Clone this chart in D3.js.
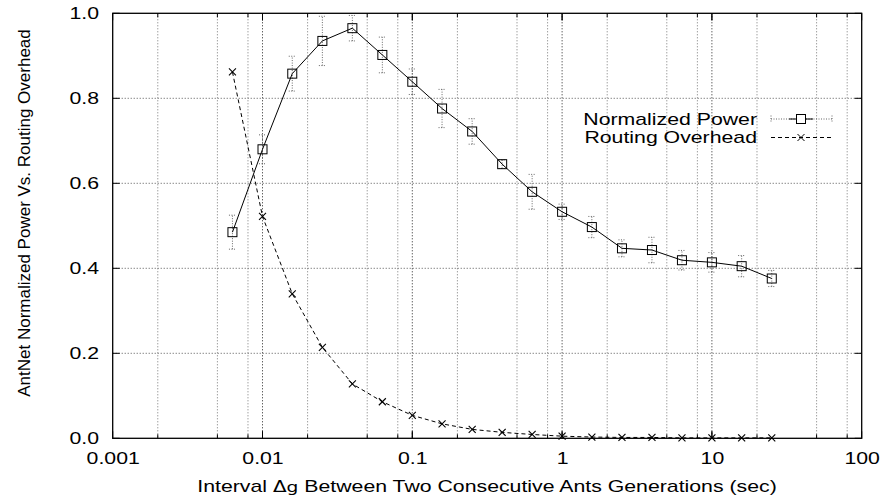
<!DOCTYPE html>
<html><head><meta charset="utf-8">
<script src="https://cdn.jsdelivr.net/npm/d3@7/dist/d3.min.js"></script>
<style>body{margin:0;background:#fff}svg{display:block}text{font-family:"Liberation Sans",Arial,sans-serif;fill:#000}</style>
</head><body>
<svg id="c" width="881" height="504"></svg>
<script>
const intervals = [0.0063, 0.01, 0.0158, 0.0251, 0.0398, 0.0631, 0.1, 0.158, 0.251, 0.398, 0.631, 1, 1.58, 2.51, 3.98, 6.31, 10, 15.8, 25.1];
const normalizedPower = [0.485, 0.680, 0.858, 0.935, 0.965, 0.902, 0.839, 0.776, 0.722, 0.645, 0.580, 0.533, 0.497, 0.447, 0.443, 0.419, 0.414, 0.405, 0.376];
const powerError = [0.040, 0.034, 0.041, 0.058, 0.030, 0.042, 0.030, 0.045, 0.030, 0.010, 0.041, 0.018, 0.025, 0.020, 0.030, 0.023, 0.023, 0.025, 0.019];
const routingOverhead = [0.862, 0.522, 0.340, 0.214, 0.128, 0.086, 0.054, 0.034, 0.021, 0.014, 0.009, 0.005, 0.003, 0.002, 0.002, 0.001, 0.001, 0.001, 0.001];
const xMajorTicks = [0.001, 0.01, 0.1, 1, 10, 100];
const xTickLabels = ["0.001", "0.01", "0.1", "1", "10", "100"];
const xGrid = [0.002, 0.005, 0.008, 0.01, 0.02, 0.05, 0.08, 0.1, 0.2, 0.5, 0.8, 1, 2, 5, 8, 10, 20, 50, 80];
const yTicks = [0, 0.2, 0.4, 0.6, 0.8, 1.0];
const seriesNames = ["Normalized Power", "Routing Overhead"];
const yTitle = "AntNet Normalized Power Vs. Routing Overhead";

const L = 112.7, R = 861.7, T = 13.3, B = 438.3;
const x = d3.scaleLog().domain([0.001, 100]).range([L, R]);
const y = d3.scaleLinear().domain([0, 1]).range([B, T]);
const svg = d3.select("#c");
const fs = 16, sx = 1.33;

// helper for horizontally stretched text
function stext(parent, px, py, str, anchor, size) {
  return parent.append("text")
    .attr("transform", `translate(${px},${py}) scale(${sx},1)`)
    .attr("text-anchor", anchor).attr("font-size", size || fs).text(str);
}

// grid
const g = svg.append("g");
g.selectAll(".vg").data(xGrid).join("line")
  .attr("x1", d => x(d)).attr("x2", d => x(d)).attr("y1", T).attr("y2", B)
  .attr("stroke", d => xMajorTicks.includes(d) ? "#222" : "#777")
  .attr("stroke-width", 1).attr("stroke-dasharray", "1,2");
g.selectAll(".hg").data(yTicks.filter(d => d > 0 && d < 1)).join("line")
  .attr("x1", L).attr("x2", R).attr("y1", d => y(d)).attr("y2", d => y(d))
  .attr("stroke", "#555").attr("stroke-width", 1).attr("stroke-dasharray", "1,2");

// axes via d3
const xAx = d3.axisBottom(x).tickValues(xMajorTicks).tickFormat((d, i) => xTickLabels[i]).tickSize(0).tickPadding(14);
const xa = svg.append("g").attr("transform", `translate(0,${B})`).call(xAx);
xa.select(".domain").remove();
xa.selectAll("text").attr("font-size", fs).attr("font-family", "Liberation Sans, Arial, sans-serif").attr("fill", "#000")
  .attr("transform", `scale(${sx},1)`);
const yAx = d3.axisLeft(y).tickValues(yTicks).tickFormat(d3.format(".1f")).tickSize(0).tickPadding(14);
const ya = svg.append("g").attr("transform", `translate(${L},0)`).call(yAx);
ya.select(".domain").remove();
ya.selectAll("text").attr("font-size", fs).attr("font-family", "Liberation Sans, Arial, sans-serif").attr("fill", "#000")
  .attr("x", -13.7 / sx).attr("transform", `scale(${sx},1)`);

// tick marks (inward, mirrored)
const tk = svg.append("g").attr("stroke", "#000").attr("stroke-width", 1);
xGrid.concat(xMajorTicks).forEach(d => {
  const len = xMajorTicks.includes(d) ? 7 : 4;
  tk.append("line").attr("x1", x(d)).attr("x2", x(d)).attr("y1", B).attr("y2", B - len);
  tk.append("line").attr("x1", x(d)).attr("x2", x(d)).attr("y1", T).attr("y2", T + len);
});
yTicks.forEach(d => {
  tk.append("line").attr("x1", L).attr("x2", L + 7).attr("y1", y(d)).attr("y2", y(d));
  tk.append("line").attr("x1", R).attr("x2", R - 7).attr("y1", y(d)).attr("y2", y(d));
});

// frame
svg.append("rect").attr("x", L).attr("y", T).attr("width", R - L).attr("height", B - T)
  .attr("fill", "none").attr("stroke", "#000").attr("stroke-width", 1.3);

// error bars
const eb = svg.append("g").attr("stroke", "#666").attr("stroke-width", 1).attr("stroke-dasharray", "1,1.5");
intervals.forEach((xv, i) => {
  const cx = x(xv), y0 = y(normalizedPower[i] - powerError[i]), y1 = y(normalizedPower[i] + powerError[i]);
  eb.append("line").attr("x1", cx).attr("x2", cx).attr("y1", y0).attr("y2", y1);
  eb.append("line").attr("x1", cx - 3.5).attr("x2", cx + 3.5).attr("y1", y0).attr("y2", y0);
  eb.append("line").attr("x1", cx - 3.5).attr("x2", cx + 3.5).attr("y1", y1).attr("y2", y1);
});

// lines
const line = d3.line().x(d => x(d[0])).y(d => y(d[1]));
const pw = intervals.map((v, i) => [v, normalizedPower[i]]);
const ro = intervals.map((v, i) => [v, routingOverhead[i]]);
svg.append("path").attr("d", line(pw)).attr("fill", "none").attr("stroke", "#000").attr("stroke-width", 1);
svg.append("path").attr("d", line(ro)).attr("fill", "none").attr("stroke", "#000").attr("stroke-width", 1).attr("stroke-dasharray", "4,3");

// markers
const sq = 9;
svg.append("g").selectAll("rect").data(pw).join("rect")
  .attr("x", d => x(d[0]) - sq / 2).attr("y", d => y(d[1]) - sq / 2).attr("width", sq).attr("height", sq)
  .attr("fill", "none").attr("stroke", "#000").attr("stroke-width", 1);
const cr = 3.5;
const crossG = svg.append("g").attr("stroke", "#000").attr("stroke-width", 1.1);
ro.forEach(d => {
  const cx = x(d[0]), cy = y(d[1]);
  crossG.append("line").attr("x1", cx - cr).attr("x2", cx + cr).attr("y1", cy - cr).attr("y2", cy + cr);
  crossG.append("line").attr("x1", cx - cr).attr("x2", cx + cr).attr("y1", cy + cr).attr("y2", cy - cr);
});

// legend
const lgX = 757, s0 = 771, s1 = 832, sm = 801;
const ly = [119, 137.5];
stext(svg, lgX, ly[0] + 5.8, seriesNames[0], "end");
stext(svg, lgX, ly[1] + 5.8, seriesNames[1], "end");
const lg = svg.append("g");
lg.append("line").attr("x1", s0).attr("x2", s1).attr("y1", ly[0]).attr("y2", ly[0]).attr("stroke", "#666").attr("stroke-dasharray", "1,1.5");
[s0, s1].forEach(xx => lg.append("line").attr("x1", xx).attr("x2", xx).attr("y1", ly[0] - 3.5).attr("y2", ly[0] + 3.5).attr("stroke", "#666").attr("stroke-dasharray", "1,1.5"));
lg.append("line").attr("x1", sm - 12).attr("x2", sm + 12).attr("y1", ly[0]).attr("y2", ly[0]).attr("stroke", "#000");
lg.append("rect").attr("x", sm - sq / 2).attr("y", ly[0] - sq / 2).attr("width", sq).attr("height", sq).attr("fill", "#fff").attr("stroke", "#000");
lg.append("line").attr("x1", s0).attr("x2", s1).attr("y1", ly[1]).attr("y2", ly[1]).attr("stroke", "#000").attr("stroke-dasharray", "4,3");
lg.append("line").attr("x1", sm - cr).attr("x2", sm + cr).attr("y1", ly[1] - cr).attr("y2", ly[1] + cr).attr("stroke", "#000");
lg.append("line").attr("x1", sm - cr).attr("x2", sm + cr).attr("y1", ly[1] + cr).attr("y2", ly[1] - cr).attr("stroke", "#000");

// axis titles
const xt = stext(svg, 487, 492, "", "middle");
xt.append("tspan").text("Interval ");
xt.append("tspan").attr("font-family", "DejaVu Sans").attr("font-size", fs - 1).text("\u0394");
xt.append("tspan").attr("font-family", "DejaVu Sans").attr("font-size", fs - 2).text("g");
xt.append("tspan").text(" Between Two Consecutive Ants Generations (sec)");
svg.append("text").attr("transform", `translate(30,213) rotate(-90)`).attr("text-anchor", "middle").attr("font-size", 17).text(yTitle);
</script>
</body></html>
